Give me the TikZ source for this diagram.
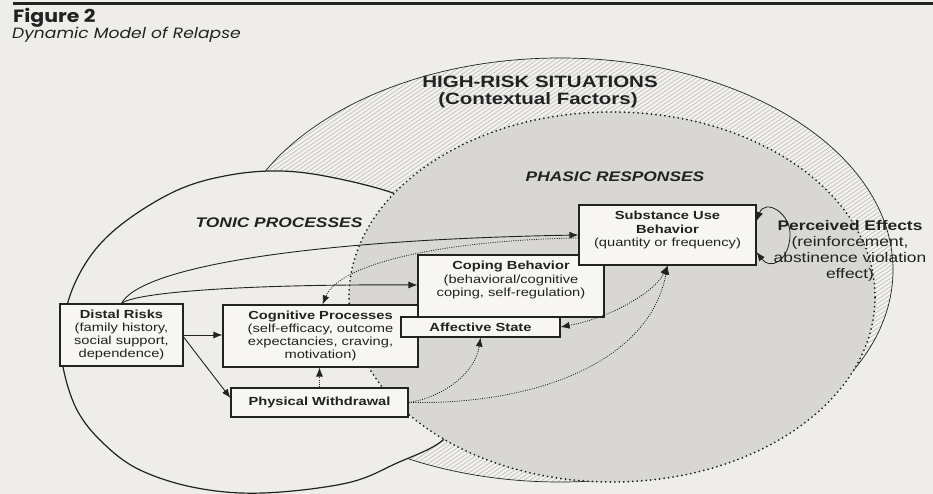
\documentclass[tikz,border=0pt]{standalone}
\usepackage{fontspec}
\setmainfont{Liberation Sans}[FakeStretch=1.25]
\newfontfamily\titlefont{Poppins}[FakeStretch=1.15]
\usetikzlibrary{arrows.meta}
\definecolor{paper}{HTML}{EEEDE9}
\definecolor{phasicgrey}{HTML}{D8D7D4}
\definecolor{hatchbase}{HTML}{F4F3F0}
\definecolor{hatchline}{HTML}{C8C7C4}
\definecolor{ink}{HTML}{222222}
\definecolor{boxfill}{HTML}{F7F6F3}
\begin{document}
\begin{tikzpicture}[x=1pt,y=-1pt,
  box/.style={draw=ink, line width=1.1pt, fill=boxfill, inner sep=0pt},
  txt/.style={text=ink, align=center, inner sep=0pt, font=\fontsize{11.75}{13.3}\selectfont},
  arr/.style={draw=ink, line width=0.9pt, -{Latex[length=9pt,width=7pt]}},
  dotarr/.style={draw=ink, line width=0.8pt, dash pattern=on 1pt off 1.3pt, -{Latex[length=9pt,width=7pt]}},
  dotarrtwo/.style={draw=ink, line width=0.8pt, dash pattern=on 1pt off 1.3pt, {Latex[length=9pt,width=7pt]}-{Latex[length=9pt,width=7pt]}},
  hatch/.style={draw=hatchline, line width=0.9pt},
  dotline/.style={draw=ink, line width=2pt, dash pattern=on 0pt off 4.5pt, line cap=round},
  title/.style={text=ink, inner sep=0pt}
]
\useasboundingbox (0,0) rectangle (933,494);
\fill[paper] (0,0) rectangle (933,494);
\draw[ink, line width=3pt] (13,3.5) -- (933,3.5);

% high-risk hatched ellipse
\begin{scope}
  \clip (560,270) ellipse [x radius=333pt, y radius=212pt];
  \fill[hatchbase] (0,0) rectangle (933,494);
  \foreach \i in {0,...,220} \draw[hatch] ({\i*6-420},494) -- ++(720,-494);
\end{scope}
\draw[ink, line width=0.7pt] (560,270) ellipse [x radius=333pt, y radius=212pt];

% tonic
\draw[fill=paper, draw=ink, line width=1.2pt] plot[smooth cycle, tension=0.6] coordinates {
 (62,333) (72,290) (95,250) (130,218) (180,189) (230,175) (280,171) (330,177) (393,193)
 (440,215) (468,270) (476,340) (465,405) (443,440) (397,463) (347,483) (263,493)
 (197,488) (140,470) (103,443) (77,410) (63,367)};

% phasic
\fill[phasicgrey] (612,297) ellipse [x radius=263pt, y radius=185pt];
\draw[dotline] (612,297) ellipse [x radius=263pt, y radius=185pt];

% titles
\node[title, anchor=base west, font=\titlefont\fontsize{17.8}{20}\selectfont\bfseries] (fig) at (13,22.5) {Figure 2};
\node[title, anchor=base west, font=\titlefont\fontsize{14.9}{17}\selectfont\itshape] (figsub) at (12,39) {Dynamic Model of Relapse};
\node[title, anchor=base, font=\fontsize{16.4}{18}\selectfont\bfseries] (hr1) at (540,88) {HIGH-RISK SITUATIONS};
\node[title, anchor=base, font=\fontsize{16.4}{18}\selectfont\bfseries] (hr2) at (538,104.5) {(Contextual Factors)};
\node[title, anchor=base, font=\fontsize{13.9}{16}\selectfont\bfseries\itshape] (phasic) at (615,182) {PHASIC RESPONSES};
\node[title, anchor=base, font=\fontsize{13.9}{16}\selectfont\bfseries\itshape] (tonic) at (279,228) {TONIC PROCESSES};

% boxes
\node[box, minimum width=123pt, minimum height=62pt] (distal) at (121.5,335) {};
\node[txt] (distaltxt) at (121.5,335) {\textbf{Distal Risks}\\(family history,\\social support,\\dependence)};
\node[box, minimum width=195pt, minimum height=62pt] (cog) at (320.5,336) {};
\node[txt] (cogtxt) at (320.5,336) {\textbf{Cognitive Processes}\\(self-efficacy, outcome\\expectancies, craving,\\motivation)};
\node[box, minimum width=177pt, minimum height=29pt] (pw) at (319.5,402.5) {};
\node[txt] (pwtxt) at (319.5,402.5) {\textbf{Physical Withdrawal}};
\node[box, minimum width=186pt, minimum height=62pt] (coping) at (511,286) {};
\node[txt] (copingtxt) at (511,280) {\textbf{Coping Behavior}\\(behavioral/cognitive\\coping, self-regulation)};
\node[box, minimum width=159pt, minimum height=20pt] (aff) at (480.5,327) {};
\node[txt] (afftxt) at (480.5,327) {\textbf{Affective State}};
\node[box, minimum width=177pt, minimum height=60pt] (subst) at (667.5,235) {};
\node[txt] (substtxt) at (667.5,230) {\textbf{Substance Use}\\\textbf{Behavior}\\(quantity or frequency)};
\node[txt, font=\fontsize{13.9}{16}\selectfont] (perc) at (850,251) {\textbf{Perceived Effects}\\(reinforcement,\\abstinence violation\\effect)};

% connectors
\draw[arr] (distal.east) -- (distal.east -| cog.west);
\draw[arr] ([yshift=-2pt]distal.east) -- ([yshift=4.5pt]pw.west);
\draw[arr] (distal.north) .. controls (135,292) and (250,284) .. ([yshift=1pt]coping.west);
\draw[arr] (distal.north) .. controls (140,268) and (300,240) .. (subst.west);
\draw[dotarr] ([yshift=-3pt]subst.west) .. controls (450,240) and (340,262) .. ([xshift=2pt]cog.north);
\draw[dotarr] (pw.north) -- (pw.north |- cog.south);
\draw[dotarr] (pw.east) .. controls (440,398) and (475,375) .. (aff.south);
\draw[dotarr] (pw.east) .. controls (540,405) and (650,360) .. (subst.south);
\draw[dotarrtwo] (aff.east) .. controls (610,318) and (655,292) .. (subst.south);
\draw[draw=ink, line width=0.8pt, {Latex[length=9pt,width=7pt]}-{Latex[length=9pt,width=7pt]}]
  ([yshift=14pt]subst.east) .. controls (765,198) and (792,213) .. (790,237)
  .. controls (788,262) and (770,270) .. ([yshift=-17pt]subst.east);
\end{tikzpicture}
\end{document}
